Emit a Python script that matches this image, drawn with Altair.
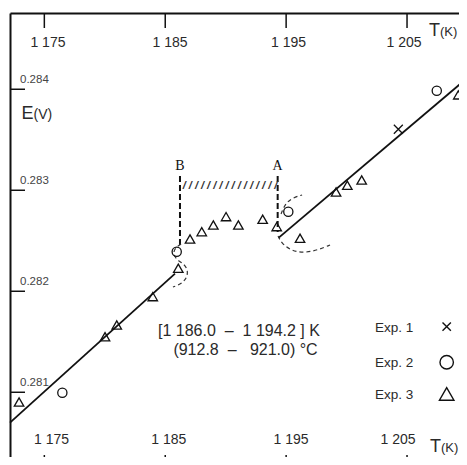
import altair as alt
import pandas as pd

# ---------------- data ----------------
T_DOMAIN = [1172.16, 1209.96]
E_DOMAIN = [0.28028, 0.284755]

x_ticks = [1175, 1185, 1195, 1205]
x_tick_labels = ["1 175", "1 185", "1 195", "1 205"]
x_label_top_T = [1175.3, 1185.4, 1195.2, 1204.75]
x_label_bottom_T = [1175.6, 1185.3, 1195.4, 1204.25]
y_ticks = [0.281, 0.282, 0.283, 0.284]
y_tick_labels = ["0.281", "0.282", "0.283", "0.284"]

exp_names = ["Exp. 1", "Exp. 2", "Exp. 3"]
exp1_T = [1204.28]
exp1_E = [0.283604]
exp2_T = [1176.49, 1185.95, 1195.18, 1207.46]
exp2_E = [0.280996, 0.282392, 0.282788, 0.283986]
exp3_T = [1172.91, 1180.02, 1180.99, 1183.97, 1186.08, 1187.05, 1188.02, 1188.98,
          1190.03, 1191.05, 1193.06, 1194.22, 1196.15, 1199.13, 1200.06, 1201.25, 1209.24]
exp3_E = [0.280904, 0.281550, 0.281666, 0.281947, 0.282228, 0.282518, 0.282590, 0.282656,
          0.282739, 0.282656, 0.282713, 0.282640, 0.282525, 0.282983, 0.283050, 0.283102, 0.283944]

fit_seg = ["low", "low", "high", "high"]
fit_T = [1172.16, 1185.81, 1194.37, 1209.96]
fit_E = [0.280699, 0.282174, 0.282529, 0.284109]

trans_labels = ["B", "A"]
trans_T = [1186.22, 1194.30]
trans_E_top = [0.283141, 0.283141]
trans_E_bot = [0.282458, 0.282587]
label_E = 0.283201

hatch_T = 1190.36
hatch_E = 0.283047

curve_B_T = [1186.31, 1185.81, 1185.64, 1185.97, 1186.55, 1186.88, 1186.80, 1186.31, 1185.64]
curve_B_E = [0.282468, 0.282429, 0.282369, 0.282310, 0.282270, 0.282211, 0.282131, 0.282072, 0.282042]
curve_A1_T = [1194.58, 1194.91, 1195.49, 1196.32]
curve_A1_E = [0.282765, 0.282864, 0.282924, 0.282953]
curve_A2_T = [1194.33, 1194.66, 1195.49, 1196.48, 1197.64, 1198.63]
curve_A2_E = [0.282548, 0.282468, 0.282399, 0.282379, 0.282409, 0.282458]

NB = "\u00a0"
range_text = ["[1" + NB + "186.0" + NB * 2 + "–" + NB * 2 + "1" + NB + "194.2" + NB + "]" + NB + "K",
              "(912.8" + NB * 2 + "–" + NB * 3 + "921.0)" + NB + "°C"]
range_text_T = [1191.10, 1191.64]
range_text_E = [0.281605, 0.281417]

legend_label_T = 1202.35
legend_symbol_T = 1208.28
legend_E = [0.281650, 0.281297, 0.280983]

# ---------------- styling ----------------
FONT = "Liberation Sans"
INK = "#111111"
TXT = "#2a2a2a"
CROSS = "M-1,-1L1,1M-1,1L1,-1"
shapes = [CROSS, "circle", "triangle-up"]
plot_sizes = [80, 85, 90]
legend_sizes = [70, 180, 210]

xs = alt.Scale(domain=T_DOMAIN, range=[0, 457], nice=False, zero=False)
ys = alt.Scale(domain=E_DOMAIN, range=[452, 0], nice=False, zero=False)
x_axis = alt.Axis(orient="top", domain=True, domainColor=INK, domainWidth=2,
                  ticks=False, labels=False, grid=False, title=None)
y_axis = alt.Axis(orient="left", domain=True, domainColor=INK, domainWidth=2,
                  ticks=False, labels=False, grid=False, title=None)


def X(f):
    return alt.X(f"{f}:Q", scale=xs, axis=x_axis)


def Y(f):
    return alt.Y(f"{f}:Q", scale=ys, axis=y_axis)


layers = []

# fitted lines
fit_df = pd.DataFrame({"T": fit_T, "E": fit_E, "seg": fit_seg})
layers.append(alt.Chart(fit_df).mark_line(color=INK, strokeWidth=1.8).encode(
    x=X("T"), y=Y("E"), detail="seg:N"))

# dashed vertical lines at transition temperatures
tr_df = pd.DataFrame({"T": trans_T, "E1": trans_E_top, "E2": trans_E_bot, "lab": trans_labels})
layers.append(alt.Chart(tr_df).mark_rule(color=INK, strokeWidth=2, strokeDash=[6, 3]).encode(
    x=X("T"), y=Y("E1"), y2="E2:Q"))
layers.append(alt.Chart(tr_df.assign(LE=label_E)).mark_text(
    font="Liberation Serif", fontSize=14, color=INK, baseline="alphabetic").encode(
    x=X("T"), y=Y("LE"), text="lab:N"))

# hatched segment
hatch_df = pd.DataFrame({"T": [hatch_T], "E": [hatch_E], "s": ["/ " * 15 + "/"]})
layers.append(alt.Chart(hatch_df).mark_text(
    font=FONT, fontSize=11, fontWeight="bold", fontStyle="italic", color="#333333",
    baseline="middle").encode(x=X("T"), y=Y("E"), text="s:N"))

# dashed curves
cur_rows = []
for name, ts, es in [("B", curve_B_T, curve_B_E), ("A1", curve_A1_T, curve_A1_E),
                     ("A2", curve_A2_T, curve_A2_E)]:
    for i, (t, e) in enumerate(zip(ts, es)):
        cur_rows.append({"T": t, "E": e, "c": name, "i": i})
cur_df = pd.DataFrame(cur_rows)
layers.append(alt.Chart(cur_df).mark_line(color="#333333", strokeWidth=1.2,
                                          strokeDash=[4, 3], interpolate="basis").encode(
    x=X("T"), y=Y("E"), detail="c:N", order="i:Q"))

# data points
for name, ts, es, shp, sz in zip(exp_names, [exp1_T, exp2_T, exp3_T], [exp1_E, exp2_E, exp3_E],
                                 shapes, plot_sizes):
    df = pd.DataFrame({"T": ts, "E": es})
    layers.append(alt.Chart(df).mark_point(shape=shp, size=sz, filled=False, color=INK,
                                           strokeWidth=1.3, opacity=1).encode(
        x=X("T"), y=Y("E")))

# range annotation
rt_df = pd.DataFrame({"T": range_text_T, "E": range_text_E, "s": range_text})
layers.append(alt.Chart(rt_df).mark_text(font=FONT, fontSize=16, color=TXT,
                                         baseline="middle", align="center").encode(
    x=X("T"), y=Y("E"), text="s:N"))

# legend (labels left, symbols right)
lg_df = pd.DataFrame({"LT": [legend_label_T] * 3, "ST": [legend_symbol_T] * 3,
                      "E": legend_E, "exp": exp_names})
layers.append(alt.Chart(lg_df).mark_text(font=FONT, fontSize=13.5, color=TXT,
                                         align="left", baseline="middle", dy=1).encode(
    x=X("LT"), y=Y("E"), text="exp:N"))
for i, (shp, sz) in enumerate(zip(shapes, legend_sizes)):
    layers.append(alt.Chart(lg_df.iloc[[i]]).mark_point(
        shape=shp, size=sz, filled=False, color=INK, strokeWidth=1.4, opacity=1).encode(
        x=X("ST"), y=Y("E")))

# inner ticks and labels
xt_df = pd.DataFrame({"T": x_ticks, "lab": x_tick_labels,
                      "LT": x_label_top_T, "LB": x_label_bottom_T})
layers.append(alt.Chart(xt_df).mark_rule(color=INK, strokeWidth=1.5).encode(
    x=X("T"), y=alt.value(0), y2=alt.value(15)))
layers.append(alt.Chart(xt_df).mark_rule(color=INK, strokeWidth=1.5).encode(
    x=X("T"), y=alt.value(442), y2=alt.value(452)))
layers.append(alt.Chart(xt_df).mark_text(font=FONT, fontSize=14, color=TXT,
                                         baseline="alphabetic").encode(
    x=X("LT"), y=alt.value(33.5), text="lab:N"))
layers.append(alt.Chart(xt_df).mark_text(font=FONT, fontSize=14, color=TXT,
                                         baseline="alphabetic").encode(
    x=X("LB"), y=alt.value(431), text="lab:N"))

yt_df = pd.DataFrame({"E": y_ticks, "lab": y_tick_labels})
layers.append(alt.Chart(yt_df).mark_rule(color=INK, strokeWidth=1.5).encode(
    y=Y("E"), x=alt.value(0), x2=alt.value(15)))
layers.append(alt.Chart(yt_df).mark_text(font=FONT, fontSize=11.5, color="#444444",
                                         align="left", baseline="alphabetic", dy=-6).encode(
    y=Y("E"), x=alt.value(10), text="lab:N"))

# axis titles
one = alt.Data(values=[{}])
for txt, px, py, fs in [("E", 11.5, 106, 18), ("(V)", 23.5, 106, 14),
                        ("T", 419, 23, 18), ("(K)", 430, 23, 13),
                        ("T", 420, 438.5, 18), ("(K)", 431, 438.5, 13)]:
    layers.append(alt.Chart(one).mark_text(text=txt, font=FONT, fontSize=fs, color=TXT,
                                           align="left", baseline="alphabetic").encode(
        x=alt.value(px), y=alt.value(py)))

chart = alt.layer(*layers).properties(
    width=449, height=444,
    padding={"left": 2, "top": 5, "right": 0, "bottom": 0},
    autosize="none", background="white",
).configure_view(stroke=None)

chart.save("out.html", embed_options={"renderer": "svg", "actions": False})
